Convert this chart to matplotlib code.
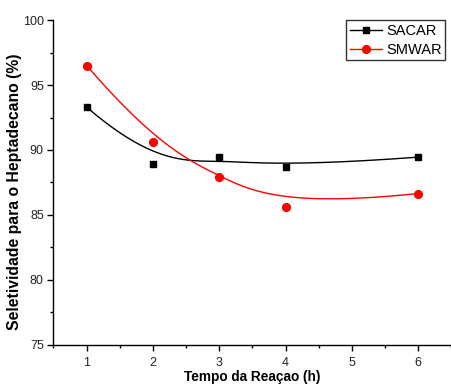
import numpy as np
import matplotlib
matplotlib.use("Agg")
import matplotlib.pyplot as plt
from matplotlib.ticker import MultipleLocator

plt.rcParams['font.family'] = ['Liberation Sans', 'DejaVu Sans']

tempo = [1, 2, 3, 4, 6]
sacar = [93.3, 88.9, 89.45, 88.7, 89.45]
smwar = [96.5, 90.6, 87.95, 85.6, 86.65]


def bspline(xs, ys, n=300, k=3):
    P = np.column_stack([xs, ys]).astype(float)
    m = len(P)
    inner = np.linspace(0, 1, m - k + 1)[1:-1]
    t = np.concatenate([[0.0] * (k + 1), inner, [1.0] * (k + 1)])
    us = np.linspace(0, 1, n)
    out = []
    for u in us:
        if u >= 1.0:
            out.append(P[-1]); continue
        s = np.searchsorted(t, u, side='right') - 1
        d = [P[j + s - k].copy() for j in range(k + 1)]
        for r in range(1, k + 1):
            for j in range(k, r - 1, -1):
                i = j + s - k
                a = (u - t[i]) / (t[i + k + 1 - r] - t[i])
                d[j] = (1 - a) * d[j - 1] + a * d[j]
        out.append(d[k])
    out = np.array(out)
    return out[:, 0], out[:, 1]


fig = plt.figure(figsize=(4.51, 3.85), dpi=100)
ax = fig.add_axes([0.1186, 0.104, 0.882, 0.844])

bx, by = bspline(tempo, sacar)
rx, ry = bspline(tempo, smwar)
ax.plot(bx, by, color='black', lw=1.0)
ax.plot(rx, ry, color='red', lw=1.0)
ax.plot(tempo, sacar, 's', color='black', ms=4.6, lw=0)
ax.plot(tempo, smwar, 'o', color='red', ms=5.6, lw=0)

# legend handles
h1, = ax.plot([], [], '-s', color='black', ms=4.6, lw=1.0, label='SACAR')
h2, = ax.plot([], [], '-o', color='red', ms=5.6, lw=1.0, label='SMWAR')
leg = ax.legend(handles=[h1, h2], loc='upper right', bbox_to_anchor=(0.985, 1.0),
                frameon=True, fancybox=False, edgecolor='black', fontsize=10.5,
                handlelength=2.2, handletextpad=0.3, borderpad=0.25, labelspacing=0.35,
                borderaxespad=0.0)
leg.get_frame().set_linewidth(1.0)

ax.set_xlim(0.5, 6.5)
ax.set_ylim(75, 100)
ax.xaxis.set_major_locator(MultipleLocator(1))
ax.xaxis.set_minor_locator(MultipleLocator(0.5))
ax.yaxis.set_major_locator(MultipleLocator(5))
ax.yaxis.set_minor_locator(MultipleLocator(2.5))
ax.tick_params(which='major', direction='out', length=4, width=1, labelsize=9, pad=3,
               labelcolor='#222222')
ax.tick_params(axis='x', which='major', pad=5)
ax.tick_params(which='minor', direction='out', length=2, width=1)
ax.spines['top'].set_visible(False)
ax.spines['right'].set_visible(False)
for s in ['left', 'bottom']:
    ax.spines[s].set_linewidth(1.0)

ax.set_xlabel('Tempo da Reaçao (h)', fontsize=9.8, fontweight='bold')
ax.xaxis.set_label_coords(0.5, -0.1)
ax.xaxis.label.set_va('center')
ax.set_ylabel('Seletividade para o Heptadecano (%)', fontsize=11.3, fontweight='bold')
ax.yaxis.set_label_coords(-0.079, 0.47)

fig.savefig('out.png', dpi=100)
